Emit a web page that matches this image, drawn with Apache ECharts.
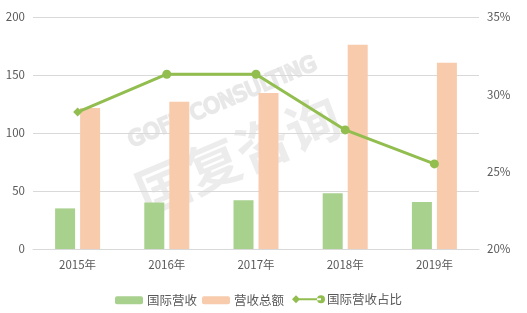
<!DOCTYPE html>
<html><head><meta charset="utf-8">
<script src="https://cdn.jsdelivr.net/npm/echarts@6/dist/echarts.min.js"></script>
<style>html,body{margin:0;padding:0;background:#fff}#c{width:527px;height:313px}</style>
</head><body><div id="c"></div>
<script>
const categories = ['2015年','2016年','2017年','2018年','2019年'];
const intlRevenue = [35, 40, 42, 48, 40.5];
const totalRevenue = [121.5, 127, 134.5, 176, 160.5];
const intlShare = [28.85, 31.3, 31.3, 27.7, 25.5];
const leftTicks = {min:0, max:200, interval:50};
const rightTicks = {min:20, max:35, interval:5};

const font = '"Noto Sans CJK SC", "Microsoft YaHei", sans-serif';
const txt = '#595959';
const chart = echarts.init(document.getElementById('c'));
chart.setOption({
  animation:false,
  backgroundColor:'#fff',
  textStyle:{fontFamily:font},
  graphic:[
    {type:'text', left:128, top:88, rotation:0.4, style:{text:'国复咨询', font:'bold 54px '+font, fill:'rgba(0,0,0,0.075)'}, z:0},
    {type:'text', left:124, top:52, rotation:0.4, style:{text:'GOFU CONSULTING', font:'21px "DejaVu Sans", sans-serif', fill:'rgba(0,0,0,0)', stroke:'rgba(0,0,0,0.09)', lineWidth:2.5}, z:0}
  ],
  grid:{left:33, right:48, top:17, bottom:64},
  legend:[
    {left:110, top:289, itemWidth:28, itemHeight:8, itemGap:5,
     textStyle:{color:txt, fontSize:12.5, fontFamily:font, padding:[0,0,0,-1]},
     data:['国际营收','营收总额']},
    {left:287, top:288, itemWidth:33, itemHeight:9, itemGap:5,
     textStyle:{color:txt, fontSize:12.5, fontFamily:font, padding:[0,0,0,-3]},
     data:[{name:'国际营收占比', icon:'path://M0,5L4,1L8,5L4,9ZM4,4L29,4L29,6L4,6ZM25,5A4,4 0 1,0 33,5A4,4 0 1,0 25,5Z'}]}
  ],
  xAxis:{type:'category', data:categories,
    axisLine:{lineStyle:{color:'#d9d9d9'}}, axisTick:{show:false},
    axisLabel:{color:txt, fontSize:11.5, margin:10}},
  yAxis:[
    {type:'value', min:leftTicks.min, max:leftTicks.max, interval:leftTicks.interval,
     axisLine:{show:false}, axisTick:{show:false},
     axisLabel:{color:txt, fontSize:11.5, margin:8},
     splitLine:{lineStyle:{color:'#d9d9d9'}}},
    {type:'value', min:rightTicks.min, max:rightTicks.max, interval:rightTicks.interval,
     axisLine:{show:false}, axisTick:{show:false}, splitLine:{show:false},
     axisLabel:{color:txt, fontSize:11.5, margin:8, formatter:'{value}%'}}
  ],
  series:[
    {name:'国际营收', type:'bar', data:intlRevenue, barWidth:20, barGap:'25%',
     itemStyle:{color:'#a9d18e'}, z:2},
    {name:'营收总额', type:'bar', data:totalRevenue, barWidth:20, barGap:'25%',
     itemStyle:{color:'#f8cbad'}, z:2},
    {name:'国际营收占比', type:'line', yAxisIndex:1,
     data:intlShare.map((v,i)=> i===0 ? {value:v, symbol:'diamond', symbolSize:9} : v),
     symbol:'circle', symbolSize:9, lineStyle:{color:'#92bd4f', width:3},
     itemStyle:{color:'#92bd4f'}, z:3}
  ]
});
</script></body></html>
